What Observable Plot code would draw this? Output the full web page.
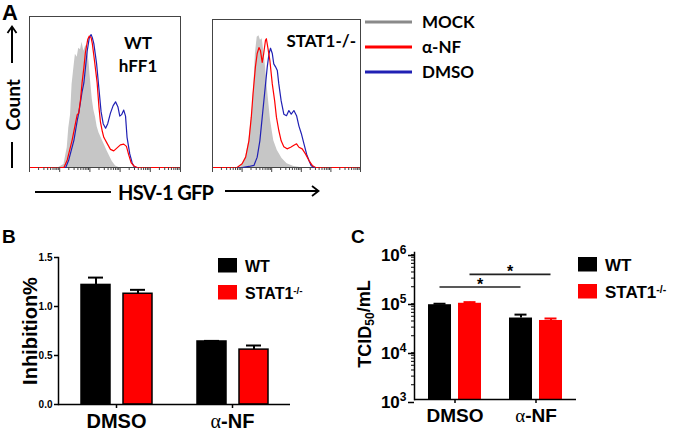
<!DOCTYPE html>
<html><head><meta charset="utf-8">
<script src="https://cdn.jsdelivr.net/npm/d3@7"></script>
<script src="https://cdn.jsdelivr.net/npm/@observablehq/plot@0.6"></script>
<style>
body{margin:0;background:#fff;}
#fig{position:relative;width:675px;height:433px;overflow:hidden;background:#fff;}
</style></head><body><div id="fig"></div>
<script>
// ---------- Panel A: flow cytometry histograms [log10 GFP, % of max] ----------
const mockWT = [[0,0],[0.97,0],[1.14,2],[1.25,13],[1.30,26],[1.36,35],[1.41,55],[1.47,66],[1.52,75],[1.58,73],[1.63,79],[1.69,78],[1.74,83],[1.80,77],[1.85,80],[1.89,81],[1.93,76],[1.97,70],[2.02,58],[2.08,45],[2.13,38],[2.19,33],[2.24,27],[2.30,23],[2.41,18],[2.57,11],[2.74,4],[2.85,1],[2.96,0],[5,0]];
const alphaNFWT = [[0,0],[1.14,0],[1.25,5],[1.41,18],[1.52,29],[1.58,35],[1.63,36],[1.69,45],[1.74,56],[1.80,66],[1.85,76],[1.93,85],[1.98,87],[2.04,86],[2.08,82],[2.15,71],[2.24,56],[2.30,40],[2.35,30],[2.41,24],[2.46,20],[2.57,16],[2.68,12],[2.79,11],[2.90,13],[3.01,15],[3.12,15.5],[3.21,14],[3.29,8],[3.37,3],[3.46,1],[3.57,0],[5,0]];
const dmsoWT = [[0,0],[1.20,0],[1.30,5],[1.47,18],[1.58,31],[1.63,36],[1.74,50],[1.80,56],[1.91,77],[1.98,86],[2.04,88],[2.08,86],[2.13,82],[2.22,69],[2.30,52],[2.37,37],[2.44,29],[2.52,26],[2.59,29],[2.68,36],[2.77,41],[2.85,43.5],[2.93,40],[2.99,34],[3.05,35],[3.12,38],[3.18,34],[3.23,20],[3.32,9],[3.40,3],[3.48,0],[5,0]];
const mockKO = [[0,0],[0.95,0],[1.12,7],[1.23,18],[1.34,38],[1.40,56],[1.45,77],[1.51,88],[1.57,89],[1.62,86],[1.68,87],[1.73,79],[1.79,68],[1.87,50],[1.96,32],[2.07,18],[2.19,11.5],[2.35,6],[2.52,2.5],[2.75,0.7],[2.97,0],[5,0]];
const alphaNFKO = [[0,0],[0.83,0],[1.00,2.5],[1.12,7],[1.23,18],[1.31,34],[1.37,50],[1.45,68],[1.51,77],[1.57,81],[1.62,79],[1.68,71],[1.73,77],[1.79,86],[1.82,87],[1.87,81],[1.94,72],[2.02,56.5],[2.10,45],[2.16,34],[2.24,25],[2.32,18],[2.41,14],[2.52,12.6],[2.64,13.7],[2.75,15],[2.84,16],[2.92,13.7],[3.03,12.6],[3.14,9.2],[3.26,4.7],[3.37,1.4],[3.48,0],[5,0]];
const dmsoKO = [[0,0],[1.00,0],[1.23,0.7],[1.40,1.4],[1.51,7],[1.60,18],[1.68,34],[1.76,50],[1.85,68],[1.91,77],[1.96,80.6],[2.02,77],[2.07,70],[2.13,68],[2.19,65.5],[2.24,56.5],[2.32,45],[2.41,36],[2.50,35],[2.58,38.5],[2.66,36],[2.75,38.5],[2.84,35],[2.92,28],[3.00,23],[3.09,16],[3.18,9],[3.26,4.7],[3.33,1.4],[3.42,0],[5,0]];
const histLegend = ["MOCK", "α-NF", "DMSO"];
const histDecades = [0, 1, 2, 3, 4, 5];

// ---------- Panels B & C ----------
const treatments = ["DMSO", "α-NF"];
const genotypes = ["WT", "STAT1-/-"];
const inhibWT = [1.22, 0.643];
const inhibWTErr = [0.075, 0.006];
const inhibKO = [1.13, 0.56];
const inhibKOErr = [0.04, 0.042];
const inhibTicks = [0, 0.5, 1.0, 1.5];
const tcidWT = [86000, 46000];
const tcidWTHigh = [90000, 54000];
const tcidKO = [92000, 41000];
const tcidKOHigh = [97000, 45000];
const tcidTicks = [1e3, 1e4, 1e5, 1e6];
const sigGenotypes = ["WT", "STAT1-/-"];
const sigLevels = [1.93e5, 3.5e5];
const sigLabels = ["*", "*"];

// ---------- styles ----------
const ARIAL = "'Liberation Sans', Arial, sans-serif";
const CALIBRI = "Lato, 'Open Sans', sans-serif";
const RED = "#ff0000", BLUE = "#2020b4", GREY_FILL = "#c6c6c6", GREY_LINE = "#8a8a8a";
const genoColor = {"WT": "#000000", "STAT1-/-": RED};

const fig = document.getElementById("fig");
function place(node, left, top) {
  node.style.position = "absolute";
  node.style.left = left + "px";
  node.style.top = top + "px";
  fig.appendChild(node);
}

const minorTicks = d3.range(0, 5).flatMap(d => d3.range(2, 10).map(k => d + Math.log10(k)));

function histogram(mock, anf, dmso, dims) {
  const rows = a => a.map(([x, y]) => ({x, y}));
  return Plot.plot({
    ...dims,
    style: {background: "transparent", overflow: "visible"},
    x: {domain: [0, 5], axis: null},
    y: {domain: [0, 100], axis: null},
    marks: [
      Plot.areaY(rows(mock), {x: "x", y: "y", fill: GREY_FILL}),
      Plot.frame({stroke: "#444", strokeWidth: 1}),
      Plot.lineY(rows(dmso), {x: "x", y: "y", stroke: BLUE, strokeWidth: 1.2}),
      Plot.lineY(rows(anf), {x: "x", y: "y", stroke: RED, strokeWidth: 1.2}),
      Plot.axisX({ticks: minorTicks, tickSize: 3, tickFormat: () => "", label: null, color: "#444"}),
      Plot.axisX({ticks: histDecades, tickSize: 5, tickFormat: () => "", label: null, color: "#444"})
    ]
  });
}

place(histogram(mockWT, alphaNFWT, dmsoWT, {width: 200, height: 180, marginLeft: 29, marginRight: 20, marginTop: 16, marginBottom: 13}), 0, 0);
place(histogram(mockKO, alphaNFKO, dmsoKO, {width: 170, height: 180, marginLeft: 12, marginRight: 10, marginTop: 19, marginBottom: 13}), 200, 0);

// ---------- Panel B ----------
const inhibRows = treatments.flatMap((t, i) => [
  {t, g: genotypes[0], v: inhibWT[i], hi: inhibWT[i] + inhibWTErr[i]},
  {t, g: genotypes[1], v: inhibKO[i], hi: inhibKO[i] + inhibKOErr[i]}
]);
const plotB = Plot.plot({
  width: 330, height: 193, marginLeft: 58, marginRight: 40, marginTop: 17, marginBottom: 29,
  style: {fontFamily: ARIAL, fontWeight: "bold", color: "#000", background: "transparent", overflow: "visible"},
  fx: {domain: treatments, padding: 0, label: null},
  x: {domain: genotypes, paddingInner: 0.314, paddingOuter: 0.506, axis: null},
  y: {domain: [0, 1.5], axis: null},
  marks: [
    Plot.barY(inhibRows, {fx: "t", x: "g", y: "v", fill: d => genoColor[d.g], stroke: "#000", strokeWidth: 1.5}),
    Plot.ruleX(inhibRows, {fx: "t", x: "g", y1: "v", y2: "hi", stroke: "#000", strokeWidth: 2}),
    Plot.tickY(inhibRows, {fx: "t", x: "g", y: "hi", stroke: "#000", strokeWidth: 2, insetLeft: 7, insetRight: 7}),
    Plot.ruleY([0], {stroke: "#000", strokeWidth: 1.5}),
    Plot.frame({anchor: "left", facet: "super", stroke: "#000", strokeWidth: 1.5}),
    Plot.axisY({ticks: inhibTicks, tickSize: 4, tickPadding: 2, tickFormat: d3.format(".1f"), fontSize: 10, label: null, strokeWidth: 1.5}),
    Plot.axisFx({anchor: "bottom", tickSize: 4, tickPadding: 5, fontSize: 20, label: null, strokeWidth: 1.5})
  ]
});
place(plotB, 0, 240);

// ---------- Panel C ----------
const tcidRows = treatments.flatMap((t, i) => [
  {t, g: genotypes[0], v: tcidWT[i], hi: tcidWTHigh[i]},
  {t, g: genotypes[1], v: tcidKO[i], hi: tcidKOHigh[i]}
]);
const tcidMinor = d3.range(3, 6).flatMap(e => d3.range(2, 10).map(k => k * 10 ** e));
const C_ML = 84;
const plotC = Plot.plot({
  width: 260, height: 193, marginLeft: C_ML, marginRight: 14, marginTop: 12, marginBottom: 34,
  style: {fontFamily: ARIAL, fontWeight: "bold", color: "#000", background: "transparent", overflow: "visible"},
  fx: {domain: treatments, padding: 0, label: null},
  x: {domain: genotypes, paddingInner: 0.246, paddingOuter: 0.451, axis: null},
  y: {type: "log", domain: [1e3, 1e6], axis: null},
  marks: [
    Plot.barY(tcidRows, {fx: "t", x: "g", y1: 1e3, y2: "v", fill: d => genoColor[d.g]}),
    Plot.ruleX(tcidRows, {fx: "t", x: "g", y1: "v", y2: "hi", stroke: d => genoColor[d.g], strokeWidth: 2}),
    Plot.tickY(tcidRows, {fx: "t", x: "g", y: "hi", stroke: d => genoColor[d.g], strokeWidth: 2, insetLeft: 5.5, insetRight: 5.5}),
    Plot.ruleY([1e3], {stroke: "#000", strokeWidth: 1.5}),
    Plot.frame({anchor: "left", facet: "super", stroke: "#000", strokeWidth: 1.5}),
    Plot.axisY({ticks: tcidMinor, tickSize: 3, tickFormat: () => "", label: null, strokeWidth: 1}),
    Plot.axisY({ticks: tcidTicks, tickSize: 6, tickPadding: 2, tickFormat: d => "10|" + Math.round(Math.log10(d)), fontSize: 17, dy: 3, label: null, strokeWidth: 1.5}),
    Plot.axisFx({anchor: "bottom", tickSize: 4, tickPadding: 5, fontSize: 19, label: null, strokeWidth: 1.5})
  ]
});
place(plotC, 330, 240);

// superscript exponents on log tick labels
d3.select(plotC).selectAll("text").each(function() {
  const s = this.textContent;
  if (s.includes("|")) {
    const [base, exp] = s.split("|");
    const t = d3.select(this); t.text(base);
    t.append("tspan").attr("dy", "-0.6em").attr("font-size", 12).text(exp);
  }
});
// alpha glyph in serif as in the original
for (const p of [plotB, plotC]) {
  d3.select(p).selectAll("text").each(function() {
    const s = this.textContent;
    if (s.startsWith("α")) {
      const t = d3.select(this); t.text("");
      t.append("tspan").attr("font-family", "'Liberation Serif', serif").attr("font-weight", "normal").text("α");
      t.append("tspan").text(s.slice(1));
    }
  });
}

// significance bars from the plot's scales
{
  const fx = plotC.scale("fx"), xs = plotC.scale("x"), ys = plotC.scale("y");
  const cx = (t, g) => fx.apply(t) - C_ML + xs.apply(g) + xs.bandwidth / 2;
  const svg = d3.select(plotC);
  sigGenotypes.forEach((g, i) => {
    const x1 = cx(treatments[0], g), x2 = cx(treatments[1], g), y = ys.apply(sigLevels[i]);
    svg.append("line").attr("x1", x1).attr("x2", x2).attr("y1", y).attr("y2", y).attr("stroke", "#222").attr("stroke-width", 1.6);
    svg.append("text").attr("x", (x1 + x2) / 2).attr("y", y + 3).attr("text-anchor", "middle")
      .attr("font-size", 16).attr("font-family", ARIAL).attr("font-weight", "bold").text(sigLabels[i]);
  });
}

// ---------- annotations (labels, legends, arrows) ----------
const ov = d3.select(fig).append("svg").attr("width", 675).attr("height", 433)
  .style("position", "absolute").style("left", 0).style("top", 0).style("pointer-events", "none");
function txt(x, y, s, o = {}) {
  return ov.append("text").attr("x", x).attr("y", y).text(s)
    .attr("font-family", o.family || ARIAL).attr("font-weight", o.weight || "bold")
    .attr("font-size", o.size || 16).attr("text-anchor", o.anchor || "start").attr("fill", o.fill || "#000");
}
// panel letters
txt(2, 20, "A", {size: 22});
txt(2, 243, "B", {size: 19});
txt(351, 243, "C", {size: 19});

// Panel A axis labels with arrows
ov.append("line").attr("x1", 12).attr("x2", 12).attr("y1", 142).attr("y2", 168).attr("stroke", "#000").attr("stroke-width", 2);
ov.append("text").attr("transform", "translate(20,105) rotate(-90)").attr("text-anchor", "middle")
  .attr("font-family", CALIBRI).attr("font-weight", "bold").attr("font-size", 19).text("Count");
ov.append("line").attr("x1", 12).attr("x2", 12).attr("y1", 63).attr("y2", 27).attr("stroke", "#000").attr("stroke-width", 2);
ov.append("path").attr("d", "M7.5,33 L12,26.5 L16.5,33").attr("fill", "none").attr("stroke", "#000").attr("stroke-width", 1.8);
ov.append("line").attr("x1", 35).attr("x2", 111).attr("y1", 192).attr("y2", 192).attr("stroke", "#000").attr("stroke-width", 2);
txt(118, 200, "HSV-1 GFP", {family: CALIBRI, size: 20}).attr("textLength", 96).attr("lengthAdjust", "spacing");
ov.append("line").attr("x1", 225).attr("x2", 318).attr("y1", 191).attr("y2", 191).attr("stroke", "#000").attr("stroke-width", 2);
ov.append("path").attr("d", "M312,186 L318.5,191 L312,196").attr("fill", "none").attr("stroke", "#000").attr("stroke-width", 1.8);

// panel A inner labels
txt(138, 49, "WT", {family: CALIBRI, size: 17, anchor: "middle"});
txt(138, 72, "hFF1", {family: CALIBRI, size: 17, anchor: "middle"});
txt(356, 47, "STAT1-/-", {family: CALIBRI, size: 17, anchor: "end"});

// panel A legend
const legColors = [GREY_LINE, RED, BLUE];
histLegend.forEach((s, i) => {
  const y = 22 + i * 25;
  ov.append("line").attr("x1", 365).attr("x2", 412).attr("y1", y).attr("y2", y).attr("stroke", legColors[i]).attr("stroke-width", 3);
  txt(422, y + 6, s, {family: CALIBRI, size: 17});
});

// B & C legends
function barLegend(x, y0, size) {
  genotypes.forEach((g, i) => {
    const y = y0 + i * 27;
    ov.append("rect").attr("x", x).attr("y", y).attr("width", 19).attr("height", 14.5).attr("fill", genoColor[g]);
    const t = txt(x + 27, y + 14, "", {size});
    if (g.includes("-/-")) {
      t.append("tspan").text(g.replace("-/-", ""));
      t.append("tspan").attr("dy", "-0.5em").attr("font-size", size * 0.62).text("-/-");
    } else t.text(g);
  });
}
barLegend(218, 258, 16);
barLegend(578, 257, 17);

// B & C y-axis titles
ov.append("text").attr("transform", "translate(37,331) rotate(-90)").attr("text-anchor", "middle")
  .attr("font-family", ARIAL).attr("font-weight", "bold").attr("font-size", 20).text("Inhibition%");
{
  const t = ov.append("text").attr("transform", "translate(371,324) rotate(-90)").attr("text-anchor", "middle")
    .attr("font-family", ARIAL).attr("font-weight", "bold").attr("font-size", 18);
  t.append("tspan").text("TCID");
  t.append("tspan").attr("dy", "0.25em").attr("font-size", 12).text("50");
  t.append("tspan").attr("dy", "-0.25em").text("/mL");
}
</script></body></html>
